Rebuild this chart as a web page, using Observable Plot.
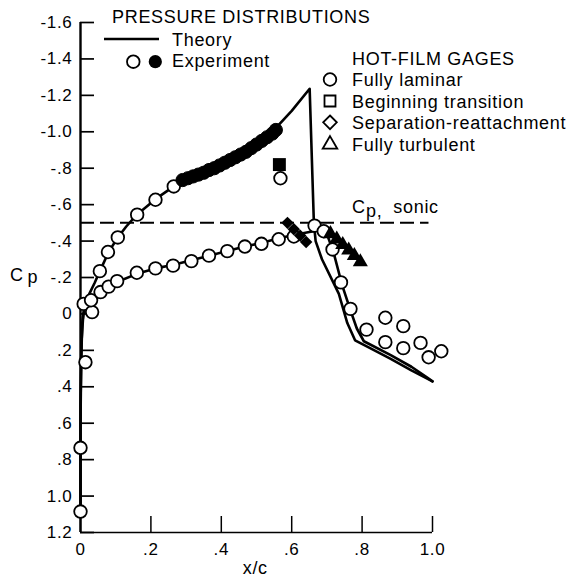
<!DOCTYPE html>
<html><head><meta charset="utf-8">
<script src="https://cdn.jsdelivr.net/npm/d3@7"></script>
<script src="https://cdn.jsdelivr.net/npm/@observablehq/plot@0.6"></script>
<style>
html,body{margin:0;padding:0;background:#fff;}
#chart svg{display:block;}
</style></head><body><div id="chart"></div>
<script>
// ---------- data ----------
const xTicks = [0, 0.2, 0.4, 0.6, 0.8, 1.0];
const xTickLabels = ["0", ".2", ".4", ".6", ".8", "1.0"];
const yTicks = [-1.6, -1.4, -1.2, -1.0, -0.8, -0.6, -0.4, -0.2, 0, 0.2, 0.4, 0.6, 0.8, 1.0, 1.2];
const yTickLabels = ["-1.6", "-1.4", "-1.2", "-1.0", "-.8", "-.6", "-.4", "-.2", "0", ".2", ".4", ".6", ".8", "1.0", "1.2"];

// theory, upper surface
const upperX  = [0, 0, 0.002, 0.005, 0.012, 0.025, 0.04, 0.055, 0.08, 0.106, 0.13, 0.16, 0.213, 0.265, 0.3, 0.35, 0.4, 0.45, 0.5, 0.55, 0.6, 0.651, 0.663, 0.668, 0.686, 0.734, 0.758, 0.78, 0.82, 0.88, 0.94, 1.0];
const upperCp = [1.1, 0.6, 0.25, 0.05, -0.05, -0.11, -0.17, -0.235, -0.34, -0.42, -0.48, -0.545, -0.63, -0.70, -0.74, -0.78, -0.83, -0.88, -0.94, -1.01, -1.115, -1.236, -0.50, -0.40, -0.30, -0.11, 0.05, 0.145, 0.185, 0.245, 0.31, 0.37];
// theory, lower surface
const lowerX  = [0, 0, 0.003, 0.008, 0.015, 0.03, 0.055, 0.08, 0.104, 0.16, 0.213, 0.265, 0.315, 0.365, 0.417, 0.467, 0.514, 0.563, 0.61, 0.65, 0.68, 0.70, 0.72, 0.743, 0.767, 0.785, 0.805, 0.88, 0.94, 0.985, 1.0];
const lowerCp = [1.1, 0.5, 0.15, 0.0, -0.06, -0.09, -0.12, -0.15, -0.175, -0.22, -0.25, -0.27, -0.295, -0.32, -0.345, -0.37, -0.39, -0.415, -0.435, -0.45, -0.46, -0.44, -0.33, -0.16, -0.02, 0.08, 0.15, 0.225, 0.29, 0.35, 0.37];

// experiment, fully laminar (open circles)
const openX  = [0, 0, 0.014, 0.009, 0.033, 0.03, 0.057, 0.08, 0.104, 0.16, 0.213, 0.263, 0.315, 0.365, 0.417, 0.467, 0.514, 0.563, 0.606,
                0.055, 0.078, 0.106, 0.161, 0.213, 0.265, 0.568,
                0.665, 0.691, 0.716, 0.74, 0.767, 0.8125, 0.866, 0.917, 0.866, 0.917, 0.966, 0.989, 1.025];
const openCp = [1.085, 0.735, 0.265, -0.055, -0.01, -0.075, -0.12, -0.15, -0.18, -0.226, -0.25, -0.265, -0.29, -0.32, -0.345, -0.37, -0.385, -0.41, -0.425,
                -0.235, -0.34, -0.42, -0.545, -0.627, -0.70, -0.745,
                -0.485, -0.454, -0.354, -0.173, -0.028, 0.086, 0.021, 0.067, 0.155, 0.188, 0.159, 0.238, 0.205];
// experiment, filled circles
const filledX  = [0.29, 0.305, 0.32, 0.335, 0.35, 0.365, 0.38, 0.395, 0.41, 0.425, 0.44, 0.455, 0.47, 0.485, 0.50, 0.515, 0.53, 0.545, 0.555];
const filledCp = [-0.735, -0.745, -0.755, -0.765, -0.775, -0.79, -0.80, -0.815, -0.83, -0.845, -0.86, -0.875, -0.89, -0.91, -0.93, -0.95, -0.97, -0.99, -1.01];
// beginning transition (square)
const squareX = [0.565];
const squareCp = [-0.82];
// separation-reattachment (diamonds)
const diamondX  = [0.588, 0.606, 0.624, 0.641];
const diamondCp = [-0.50, -0.465, -0.43, -0.395];
// fully turbulent (triangles)
const triX  = [0.71, 0.728, 0.745, 0.762, 0.778, 0.795];
const triCp = [-0.44, -0.41, -0.38, -0.35, -0.32, -0.285];

const cpSonic = -0.5;
const sonicX = [0, 0.99];

const titleText = "PRESSURE DISTRIBUTIONS";
const theoryText = "Theory";
const experimentText = "Experiment";
const gagesTitle = "HOT-FILM GAGES";
const gageLabels = ["Fully laminar", "Beginning transition", "Separation-reattachment", "Fully turbulent"];
const xLabel = "x/c";

// ---------- build ----------
const W = 570, H = 583, ML = 80, MR = 138, MT = 22, MB = 51;
const zip = (xs, ys) => xs.map((x, i) => ({x, cp: ys[i]}));
const xLab = new Map(xTicks.map((d, i) => [d, xTickLabels[i]]));
const yLab = new Map(yTicks.map((d, i) => [d, yTickLabels[i]]));
const FONT = "'Liberation Sans', Arial, Helvetica, sans-serif";
const frameW = W - ML - MR, frameH = H - MT - MB;

const chart = Plot.plot({
  width: W, height: H,
  marginLeft: ML, marginRight: MR, marginTop: MT, marginBottom: MB,
  style: {fontFamily: FONT, fontSize: "17px", color: "#000", background: "#fff", letterSpacing: "0.7px"},
  x: {domain: [0, 1], label: null},
  y: {domain: [1.2, -1.6], label: null},
  marks: [
    Plot.axisX({ticks: xTicks, tickFormat: d => xLab.get(d), tickSize: 0, tickPadding: 10, fontSize: 17, label: null}),
    Plot.axisY({ticks: yTicks, tickFormat: d => yLab.get(d), tickSize: 0, tickPadding: 8, fontSize: 17, label: null}),
    Plot.ruleX(xTicks, {x: d => d, insetTop: frameH - 16, stroke: "#000", strokeWidth: 1.5}),
    Plot.ruleY(yTicks, {y: d => d, insetRight: frameW - 14, stroke: "#000", strokeWidth: 1.7}),
    Plot.ruleY([yTicks[yTicks.length - 1]], {stroke: "#000", strokeWidth: 1.6}),
    Plot.ruleX([xTicks[0]], {stroke: "#000", strokeWidth: 2.4}),
    Plot.line(zip(upperX, upperCp), {x: "x", y: "cp", stroke: "#000", strokeWidth: 2.6, strokeLinejoin: "round"}),
    Plot.line(zip(lowerX, lowerCp), {x: "x", y: "cp", stroke: "#000", strokeWidth: 2.6, strokeLinejoin: "round"}),
    Plot.ruleY([cpSonic], {x1: sonicX[0], x2: sonicX[1], stroke: "#000", strokeWidth: 2, strokeDasharray: "14,6"}),
    Plot.dot(zip(openX, openCp), {x: "x", y: "cp", r: 6.3, fill: "#fff", stroke: "#000", strokeWidth: 1.8}),
    Plot.dot(zip(filledX, filledCp), {x: "x", y: "cp", r: 6.6, fill: "#000", stroke: "#000", strokeWidth: 1}),
    Plot.dot(zip(squareX, squareCp), {x: "x", y: "cp", symbol: "square", r: 7.3, fill: "#000", stroke: "none"}),
    Plot.dot(zip(diamondX, diamondCp), {x: "x", y: "cp", symbol: "diamond2", r: 5.6, fill: "#000", stroke: "none"}),
    Plot.dot(zip(triX, triCp), {x: "x", y: "cp", symbol: "triangle", r: 5.6, fill: "#000", stroke: "none"})
  ]
});
document.getElementById("chart").appendChild(chart);

// ---------- annotations / legend ----------
const svg = d3.select(chart);
const g = svg.append("g").attr("font-family", FONT).attr("font-size", 18).attr("fill", "#000")
  .attr("text-anchor", "start").style("letter-spacing", "0.7px");
g.append("text").attr("x", 112).attr("y", 22.5).text(titleText);
g.append("line").attr("x1", 104).attr("x2", 159).attr("y1", 39).attr("y2", 39).attr("stroke", "#000").attr("stroke-width", 2.6);
g.append("text").attr("x", 172).attr("y", 45.5).text(theoryText);
g.append("circle").attr("cx", 133.3).attr("cy", 61.7).attr("r", 6.3).attr("fill", "#fff").attr("stroke", "#000").attr("stroke-width", 1.8);
g.append("circle").attr("cx", 155.3).attr("cy", 61.7).attr("r", 6.6).attr("fill", "#000");
g.append("text").attr("x", 172).attr("y", 67).text(experimentText);

g.append("text").attr("x", 352).attr("y", 65).text(gagesTitle);
const symCenters = [79.5, 101, 122.3, 144.5];
const syms = [d3.symbol(d3.symbolCircle, Math.PI * 6.3 * 6.3), d3.symbol(d3.symbolSquare, 121), d3.symbol(d3.symbolDiamond2, 118), d3.symbol(d3.symbolTriangle, 92)];
gageLabels.forEach((lab, i) => {
  g.append("path").attr("d", syms[i]()).attr("transform", `translate(330,${symCenters[i]})`).attr("fill", "#fff").attr("stroke", "#000").attr("stroke-width", 1.8);
  g.append("text").attr("x", 352).attr("y", symCenters[i] + 6.6).text(lab);
});

// Cp, sonic label
g.append("text").attr("x", 352).attr("y", 213).text("C");
g.append("text").attr("x", 366).attr("y", 217).text("p,");
g.append("text").attr("x", 393.3).attr("y", 213).text("sonic");

// axis titles
g.append("text").attr("x", 10).attr("y", 280.5).text("C");
g.append("text").attr("x", 27.5).attr("y", 283).text("p");
g.append("text").attr("x", 242.7).attr("y", 574).text(xLabel);
</script></body></html>
